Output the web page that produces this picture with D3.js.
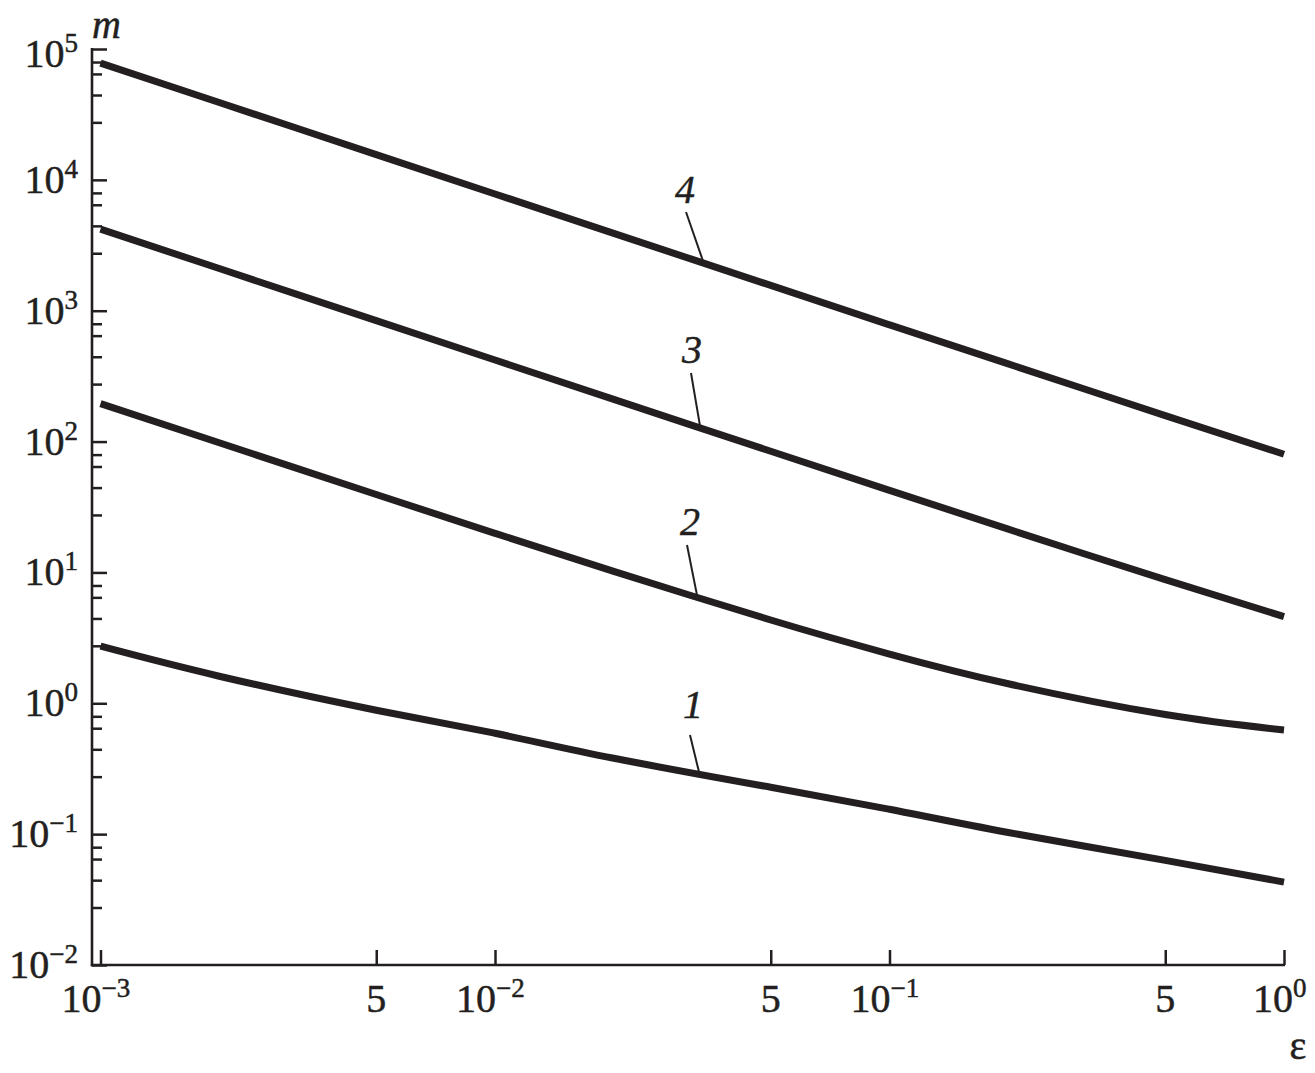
<!DOCTYPE html>
<html>
<head>
<meta charset="utf-8">
<script src="https://cdn.jsdelivr.net/npm/d3@7"></script>
<style>
  body { margin: 0; background: white; }
  svg { display: block; }
  text { stroke: #231f20; stroke-width: 0.5px; }
</style>
</head>
<body>
<div id="chart"></div>
<script>

// data
var eps_values = [0.001, 0.002, 0.005, 0.01, 0.02, 0.05, 0.1, 0.2, 0.5, 1];
var curve_1 = [2.73, 1.61, 0.885, 0.59, 0.38, 0.228, 0.155, 0.103, 0.063, 0.043];
var curve_2 = [195, 97.9, 39.4, 19.9, 10.2, 4.33, 2.38, 1.41, 0.82, 0.625];
var curve_3 = [4200, 2100, 840, 420, 210, 84.4, 42.4, 21.4, 8.8, 4.6];
var curve_4 = [78000, 39000, 15600, 7800, 3900, 1560, 780, 392, 158, 80];
var curve_names = ['1', '2', '3', '4'];

var x_major_ticks = [0.001, 0.005, 0.01, 0.05, 0.1, 0.5, 1];
var y_major_ticks = [1e-2, 1e-1, 1e0, 1e1, 1e2, 1e3, 1e4, 1e5];
var y_minor_mantissa = [2.75, 4.45, 6.45, 7.95];

var width = 1315;
var height = 1073;
var ink = '#231f20';
var font = '"Liberation Serif", "Times New Roman", serif';

var svg = d3.select('#chart')
  .append('svg')
  .attr('width', width)
  .attr('height', height);

var x = d3.scaleLog().domain([1e-3, 1]).range([100.5, 1284]);
var y = d3.scaleLog().domain([1e-2, 1e5]).range([965, 49]);

var axis_x0 = 92;
var axis_y0 = 965;

// minor y ticks, between each pair of decades
var y_minor_ticks = [];
y_major_ticks.slice(0, -1).forEach(function(d){
  y_minor_mantissa.forEach(function(m){
    y_minor_ticks.push(d * m);
  });
});

// y axis (ticks point inward)
var y_axis_major = d3.axisLeft(y)
  .tickValues(y_major_ticks)
  .tickSizeInner(-15)
  .tickSizeOuter(0)
  .tickFormat('');

var y_axis_minor = d3.axisLeft(y)
  .tickValues(y_minor_ticks)
  .tickSizeInner(-10)
  .tickSizeOuter(0)
  .tickFormat('');

svg.append('g')
  .attr('transform', 'translate(' + axis_x0 + ',0)')
  .call(y_axis_major)
  .call(function(g){ g.select('.domain').remove(); });

svg.append('g')
  .attr('transform', 'translate(' + axis_x0 + ',0)')
  .call(y_axis_minor)
  .call(function(g){ g.select('.domain').remove(); });

// x axis
var x_axis = d3.axisBottom(x)
  .tickValues(x_major_ticks)
  .tickSizeInner(-15)
  .tickSizeOuter(0)
  .tickFormat('');

svg.append('g')
  .attr('transform', 'translate(0,' + axis_y0 + ')')
  .call(x_axis)
  .call(function(g){ g.select('.domain').remove(); });

svg.selectAll('.tick line')
  .style('stroke', ink)
  .style('stroke-width', 2.5);

// axis lines
svg.append('line')
  .attr('x1', axis_x0).attr('x2', axis_x0)
  .attr('y1', y(1e5) - 1).attr('y2', axis_y0 + 1.2)
  .style('stroke', ink)
  .style('stroke-width', 2.6);

svg.append('line')
  .attr('x1', axis_x0 - 1.2).attr('x2', x(1) + 1)
  .attr('y1', axis_y0).attr('y2', axis_y0)
  .style('stroke', ink)
  .style('stroke-width', 2.6);

// y tick labels: 10 with superscript exponent
var y_labels = svg.append('g')
  .selectAll('text')
  .data(y_major_ticks)
  .enter()
  .append('text')
  .attr('x', 78)
  .attr('y', function(d){ return y(d) + (d === 1e5 ? 18 : 13); })
  .style('font-family', font)
  .style('font-size', '40px')
  .style('fill', ink)
  .style('text-anchor', 'end');

y_labels.append('tspan').text('10');
y_labels.append('tspan')
  .attr('dy', -15)
  .style('font-size', '27px')
  .text(function(d){
    var p = Math.round(Math.log10(d));
    return p < 0 ? '\u2212' + (-p) : String(p);
  });

// x tick labels
var x_label_y = 1012;
x_major_ticks.forEach(function(d){
  var p = Math.round(Math.log10(d));
  var is_power = Math.abs(Math.log10(d) - p) < 1e-9;
  var tx = x(d);
  if (!is_power){
    svg.append('text')
      .attr('x', tx)
      .attr('y', x_label_y)
      .style('font-family', font)
      .style('font-size', '40px')
      .style('fill', ink)
      .style('text-anchor', 'middle')
      .text('5');
    return;
  }
  // last label sits a bit to the right in the original
  var shift = (d === 1) ? 8 : 0;
  svg.append('text')
    .attr('x', tx + 1 + shift)
    .attr('y', x_label_y)
    .style('font-family', font)
    .style('font-size', '40px')
    .style('fill', ink)
    .style('text-anchor', 'end')
    .text('10');
  svg.append('text')
    .attr('x', tx + 1 + shift)
    .attr('y', x_label_y - 15)
    .style('font-family', font)
    .style('font-size', '27px')
    .style('fill', ink)
    .style('text-anchor', 'start')
    .text(p < 0 ? '\u2212' + (-p) : String(p));
});

// axis titles
svg.append('text')
  .attr('x', 92)
  .attr('y', 38)
  .style('font-family', font)
  .style('font-size', '40px')
  .style('font-style', 'italic')
  .style('fill', ink)
  .text('m');

svg.append('text')
  .attr('x', 1298)
  .attr('y', 1059)
  .style('font-family', font)
  .style('font-size', '40px')
  .style('fill', ink)
  .style('text-anchor', 'middle')
  .text('\u03b5');

// curves
var all_curves = [curve_1, curve_2, curve_3, curve_4];

var line = d3.line()
  .x(function(d){ return x(d[0]); })
  .y(function(d){ return y(d[1]); })
  .curve(d3.curveNatural);

all_curves.forEach(function(vals){
  var pts = eps_values.map(function(e, i){ return [e, vals[i]]; });
  svg.append('path')
    .datum(pts)
    .attr('d', line)
    .style('fill', 'none')
    .style('stroke', ink)
    .style('stroke-width', 7)
    .style('stroke-linecap', 'butt');
});

// curve labels with leader lines (label pos in px, leader hits curve at x_hit)
var label_pos = [
  {x: 693, y: 718, lx: 690, ly: 735, x_hit: 699},
  {x: 690, y: 535, lx: 687, ly: 545, x_hit: 697},
  {x: 692, y: 363, lx: 691, ly: 373, x_hit: 700},
  {x: 685, y: 203, lx: 686, ly: 212, x_hit: 703}
];

function curve_at(vals, e){
  // log-log interpolation on the read points
  var le = Math.log10(e);
  var lx = eps_values.map(Math.log10);
  var ly = vals.map(Math.log10);
  var i = d3.bisectRight(lx, le) - 1;
  i = Math.max(0, Math.min(i, lx.length - 2));
  var t = (le - lx[i]) / (lx[i + 1] - lx[i]);
  return Math.pow(10, ly[i] + t * (ly[i + 1] - ly[i]));
}

label_pos.forEach(function(p, i){
  var e_hit = x.invert(p.x_hit);
  var m_hit = curve_at(all_curves[i], e_hit);

  svg.append('line')
    .attr('x1', p.lx)
    .attr('y1', p.ly)
    .attr('x2', p.x_hit)
    .attr('y2', y(m_hit) - 2)
    .style('stroke', ink)
    .style('stroke-width', 2);

  svg.append('text')
    .attr('x', p.x)
    .attr('y', p.y)
    .style('font-family', font)
    .style('font-size', '40px')
    .style('font-style', 'italic')
    .style('fill', ink)
    .style('text-anchor', 'middle')
    .text(curve_names[i]);
});

</script>
</body>
</html>
